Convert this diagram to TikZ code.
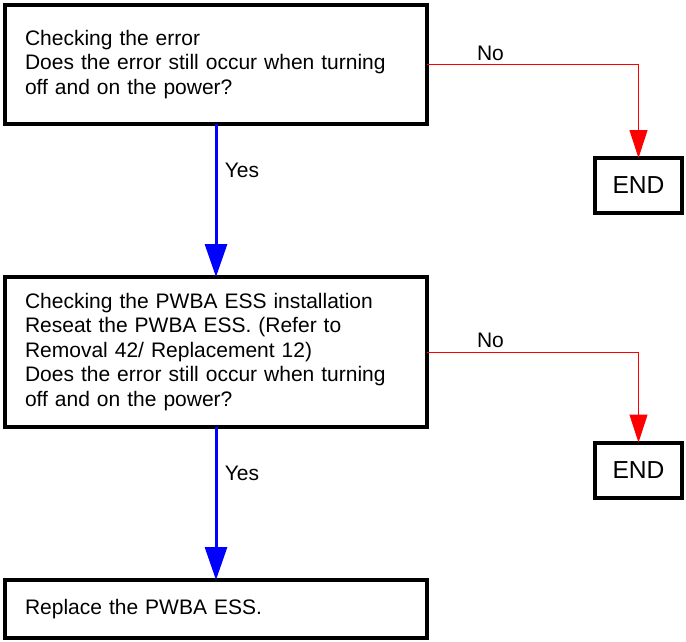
\documentclass[tikz,border=0pt]{standalone}
\usepackage{fontspec}
\setmainfont{Liberation Sans}
\usetikzlibrary{arrows.meta}

\tikzset{
  stepbox/.style={draw=black,line width=4pt,fill=white,rectangle,
    anchor=north west,align=left,inner xsep=20pt,inner ysep=0pt,outer sep=0pt,
    text width=382pt,font=\fontsize{21}{24.5}\selectfont},
  endbox/.style={draw=black,line width=4pt,fill=white,rectangle,
    minimum width=87pt,minimum height=55pt,inner sep=0pt,outer sep=0pt,
    font=\fontsize{24.6}{28}\selectfont},
  yesline/.style={draw=blue,line width=3pt,-{Triangle[length=33pt,width=22pt]}},
  noline/.style={draw=red,line width=1pt,-{Triangle[length=28pt,width=18pt]}},
  lbl/.style={font=\fontsize{21}{24.5}\selectfont,text=black}
}

\begin{document}
\begin{tikzpicture}[x=1pt,y=-1pt]
  \useasboundingbox (0,0) rectangle (686,641);

  \node[stepbox,minimum height=119pt] (check1) at (5,5)
    {Checking the error\\Does the error still occur when turning\\off and on the power?};
  \node[stepbox,minimum height=150pt] (check2) at (5,277)
    {Checking the PWBA ESS installation\\Reseat the PWBA ESS. (Refer to\\Removal 42/ Replacement 12)\\Does the error still occur when turning\\off and on the power?};
  \node[stepbox,minimum height=58pt] (replace) at (5,580)
    {Replace the PWBA ESS.};

  \node[endbox] (end1) at (638.5,185.5) {END};
  \node[endbox] (end2) at (638.5,470) {END};

  % no branches
  \draw[noline] (check1.east) -| node[lbl,above,pos=0.15] {No} (end1.north);
  \draw[noline] (check2.east) -| node[lbl,above,pos=0.15] {No} (end2.north);

  % yes branches
  \draw[yesline] (check1.south) -- node[lbl,right,pos=0.3,xshift=4pt] {Yes} (check2.north);
  \draw[yesline] (check2.south) -- node[lbl,right,pos=0.3,xshift=4pt] {Yes} (replace.north);
\end{tikzpicture}
\end{document}
